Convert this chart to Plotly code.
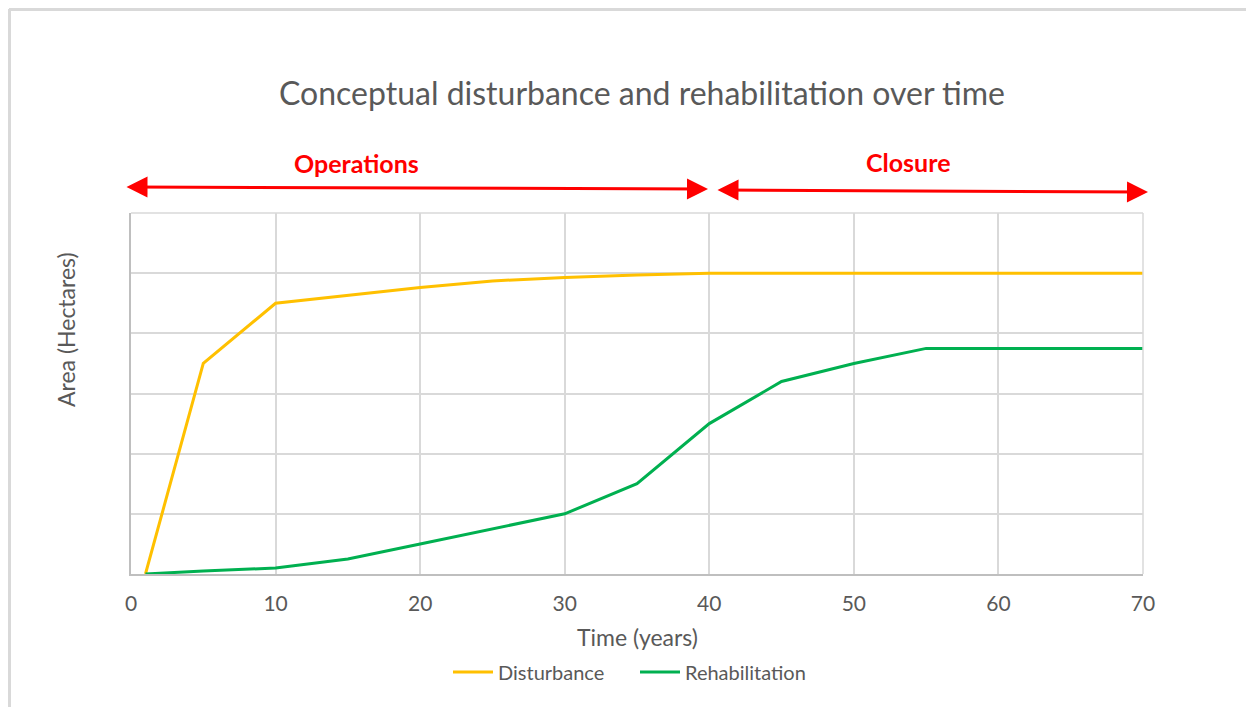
import plotly.graph_objects as go

# Data
years_dist = [1, 5, 10, 15, 20, 25, 30, 35, 40, 45, 50, 55, 60, 65, 70]
disturbance = [0, 3.5, 4.5, 4.63, 4.76, 4.87, 4.93, 4.97, 5.0, 5.0, 5.0, 5.0, 5.0, 5.0, 5.0]
years_rehab = [1, 5, 10, 15, 20, 25, 30, 35, 40, 45, 50, 55, 60, 65, 70]
rehabilitation = [0, 0.05, 0.1, 0.25, 0.5, 0.75, 1.0, 1.5, 2.5, 3.2, 3.5, 3.75, 3.75, 3.75, 3.75]
x_ticks = [0, 10, 20, 30, 40, 50, 60, 70]

OFF = 8  # browser body margin
W, H = 1254, 707
L, R, T, B = 131, 1143, 213, 574  # screen coords of plot area

def px(x):
    return (x - L) / (R - L)

def py(y):
    return (B - y) / (B - T)

FONT = "Lato, 'Open Sans', sans-serif"
GRAY = "#595959"
RED = "#FF0000"

fig = go.Figure()
fig.add_trace(go.Scatter(x=years_dist, y=disturbance, mode="lines", name="Disturbance",
                         line=dict(color="#FFC000", width=3)))
fig.add_trace(go.Scatter(x=years_rehab, y=rehabilitation, mode="lines", name="Rehabilitation",
                         line=dict(color="#00B050", width=3)))

fig.update_layout(
    width=W - OFF, height=H - OFF,
    margin=dict(l=L - OFF, r=W - R, t=T - OFF, b=H - B, pad=0),
    paper_bgcolor="white", plot_bgcolor="white",
    font=dict(family=FONT, color=GRAY),
    showlegend=True,
    legend=dict(orientation="h", x=px(448), xanchor="left", y=py(672), yanchor="middle",
                font=dict(size=20, color=GRAY), itemwidth=40, tracegroupgap=0,
                entrywidth=132, entrywidthmode="pixels"),
    xaxis=dict(range=[0, 70], tickvals=x_ticks, ticks="", showgrid=True,
               gridcolor="#d9d9d9", gridwidth=1.5, showline=True, linecolor="#bfbfbf",
               linewidth=2, mirror=False, zeroline=False, ticklabelstandoff=10,
               tickfont=dict(size=21, color=GRAY)),
    yaxis=dict(range=[0, 6], dtick=1, showticklabels=False, ticks="", showgrid=True,
               gridcolor="#d9d9d9", gridwidth=1.5, showline=True, linecolor="#bfbfbf",
               linewidth=2, zeroline=False),
)

# Right and top borders of plot area
fig.add_shape(type="line", xref="paper", yref="paper", x0=1, x1=1, y0=0, y1=1,
              line=dict(color="#d9d9d9", width=1.5))
fig.add_shape(type="line", xref="paper", yref="paper", x0=0, x1=1, y0=1, y1=1,
              line=dict(color="#d9d9d9", width=1.5))

# Outer frame
fig.add_shape(type="line", xref="paper", yref="paper", x0=px(9), x1=px(1260), y0=py(9.5), y1=py(9.5),
              line=dict(color="#d9d9d9", width=3))
fig.add_shape(type="line", xref="paper", yref="paper", x0=px(9.5), x1=px(9.5), y0=py(9), y1=py(712),
              line=dict(color="#d9d9d9", width=3))

annotations = [
    dict(text="Conceptual disturbance and rehabilitation over time", x=px(642), y=py(92),
         xref="paper", yref="paper", showarrow=False, font=dict(size=32, color=GRAY),
         xanchor="center", yanchor="middle"),
    dict(text="Time (years)", x=px(637), y=py(637), xref="paper", yref="paper",
         showarrow=False, font=dict(size=23, color=GRAY), xanchor="center", yanchor="middle"),
    dict(text="Area (Hectares)", x=px(66), y=py(330), xref="paper", yref="paper",
         showarrow=False, textangle=-90, font=dict(size=23, color=GRAY),
         xanchor="center", yanchor="middle"),
    dict(text="<b>Operations</b>", x=px(356), y=py(163), xref="paper", yref="paper",
         showarrow=False, font=dict(size=25, color=RED), xanchor="center", yanchor="middle"),
    dict(text="<b>Closure</b>", x=px(908), y=py(162), xref="paper", yref="paper",
         showarrow=False, font=dict(size=25, color=RED), xanchor="center", yanchor="middle"),
    dict(text="", x=px(708), y=py(189), xref="paper", yref="paper", showarrow=True,
         ax=125 - 708, ay=187 - 189, axref="pixel", ayref="pixel",
         arrowside="end+start", arrowhead=2, startarrowhead=2, arrowsize=1.4, startarrowsize=1.4,
         arrowwidth=3, arrowcolor=RED),
    dict(text="", x=px(1148), y=py(192), xref="paper", yref="paper", showarrow=True,
         ax=716 - 1148, ay=190 - 192, axref="pixel", ayref="pixel",
         arrowside="end+start", arrowhead=2, startarrowhead=2, arrowsize=1.4, startarrowsize=1.4,
         arrowwidth=3, arrowcolor=RED),
]
fig.update_layout(annotations=annotations)

fig.write_html("out.html")
